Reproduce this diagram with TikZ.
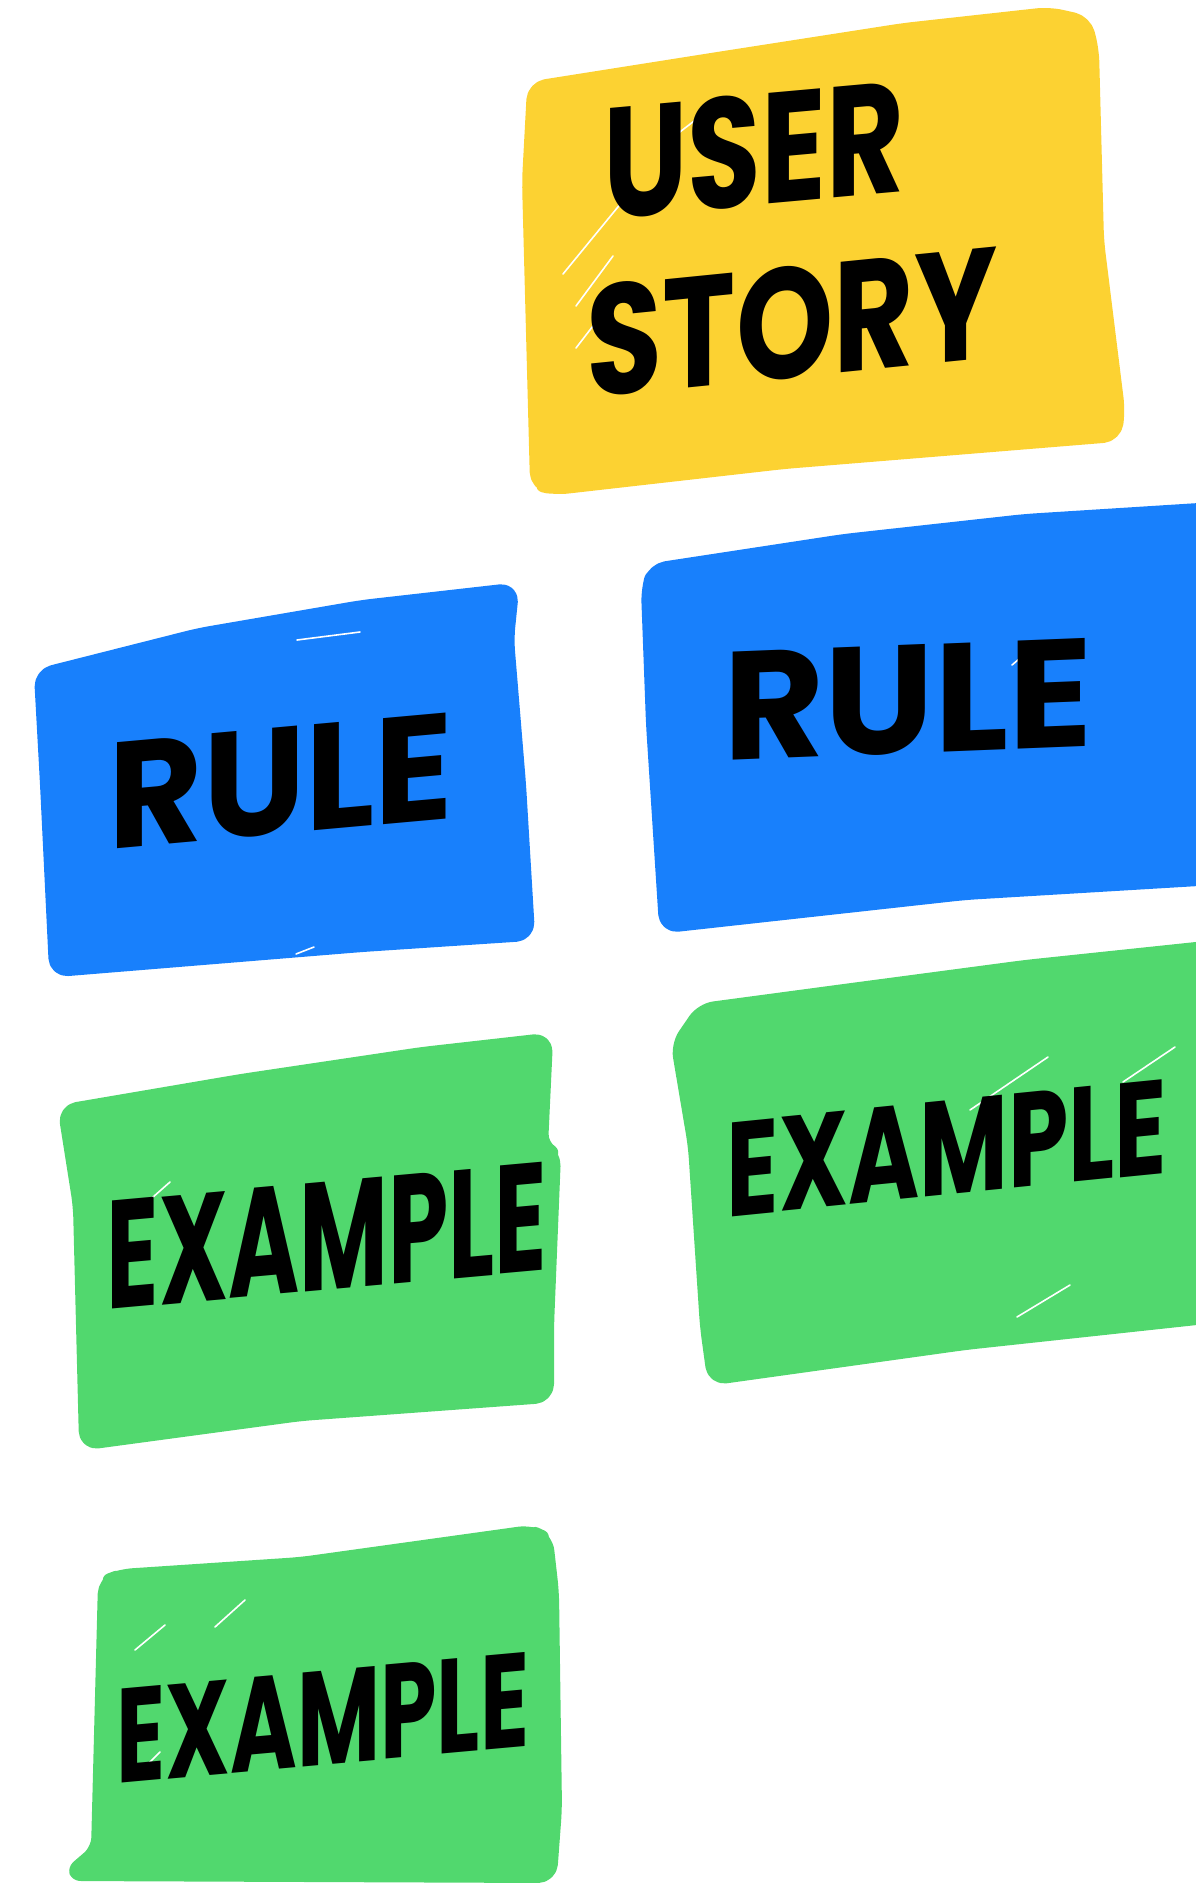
\documentclass[tikz,border=0pt]{standalone}
\usepackage{fontspec}
\newfontfamily\hand{Poppins}
\definecolor{noteyellow}{HTML}{FCD232}
\definecolor{noteblue}{HTML}{1880FC}
\definecolor{notegreen}{HTML}{51D86E}
\newcommand\handtext[3]{\resizebox{#1}{#2}{\hand\bfseries #3}}
\tikzset{
  note/.style={fill=#1, draw=#1, line width=14pt, line join=round, line cap=round, rounded corners=12pt},
  streak/.style={draw=white, line width=1.6pt, line cap=round},
  notetext/.style={inner sep=0pt, text=black}
}
\begin{document}
\begin{tikzpicture}[x=1pt,y=-1pt]
\useasboundingbox (0,0) rectangle (1195,1891);
% yellow user story
\path[note=noteyellow] (534,88) -- (724,58) -- (904,30) -- (1049,14) -- (1085,22) -- (1092,50) -- (1097,241) -- (1118,410) -- (1115,435) -- (784,462) -- (555,488) -- (537,484) -- (529,181) -- cycle;
\draw[streak] (563,274) -- (631,191);
\draw[streak] (576,306) -- (613,256);
\draw[streak] (576,348) -- (613,300);
\draw[streak] (676,135) -- (707,111);
% blue left rule
\path[note=noteblue] (41,675) -- (199,635) -- (362,607) -- (512,590) -- (507,639) -- (519,784) -- (528,934) -- (362,945) -- (56,970) -- (47,784) -- cycle;
\draw[streak] (297,640) -- (360,632);
\draw[streak] (296,954) -- (314,947);
% blue right rule
\path[note=noteblue] (648,590) -- (654,570) -- (844,541) -- (1025,521) -- (1215,509) -- (1215,878) -- (965,893) -- (666,926) -- (653,724) -- cycle;
\draw[streak] (1012,665) -- (1040,641);
\draw[streak] (1070,960) -- (1085,947);
\draw[streak] (708,939) -- (716,931);
% green left example
\path[note=notegreen] (65,1111) -- (241,1081) -- (422,1054) -- (546,1040) -- (541,1146) -- (554,1154) -- (547,1326) -- (547,1396) -- (301,1414) -- (86,1443) -- (80,1206) -- cycle;
\draw[streak] (135,1213) -- (170,1182);
\draw[streak] (298,1475) -- (330,1448);
% green right example
\path[note=notegreen] (702,1010) -- (844,991) -- (1025,967) -- (1215,947) -- (1215,1316) -- (965,1343) -- (714,1378) -- (707,1327) -- (695,1146) -- (678,1045) -- cycle;
\draw[streak] (970,1110) -- (1048,1057);
\draw[streak] (1123,1082) -- (1175,1047);
\draw[streak] (1017,1317) -- (1070,1285);
% green bottom example
\path[note=notegreen] (105,1582) -- (121,1576) -- (301,1564) -- (531,1532) -- (546,1539) -- (552,1592) -- (555,1809) -- (550,1876) -- (70,1874) -- (98,1850) -- cycle;
\draw[streak] (135,1650) -- (165,1625);
\draw[streak] (215,1627) -- (245,1600);
\draw[streak] (137,1775) -- (160,1752);
% texts
\node[notetext, yslant=0.09] (t1) at (754,150) {\handtext{301pt}{112pt}{USER}};
\node[notetext, yslant=0.10] (t2) at (792,322) {\handtext{410pt}{112pt}{STORY}};
\node[notetext, yslant=0.09] (t3) at (281,781) {\handtext{345pt}{106pt}{RULE}};
\node[notetext, yslant=0.04] (t4) at (908,700) {\handtext{370pt}{108pt}{RULE}};
\node[notetext, yslant=0.09] (t5) at (327,1236) {\handtext{440pt}{108pt}{EXAMPLE}};
\node[notetext, yslant=0.10] (t6) at (947,1148) {\handtext{440pt}{94pt}{EXAMPLE}};
\node[notetext, yslant=0.09] (t7) at (323,1718) {\handtext{412pt}{94pt}{EXAMPLE}};
\end{tikzpicture}
\end{document}
